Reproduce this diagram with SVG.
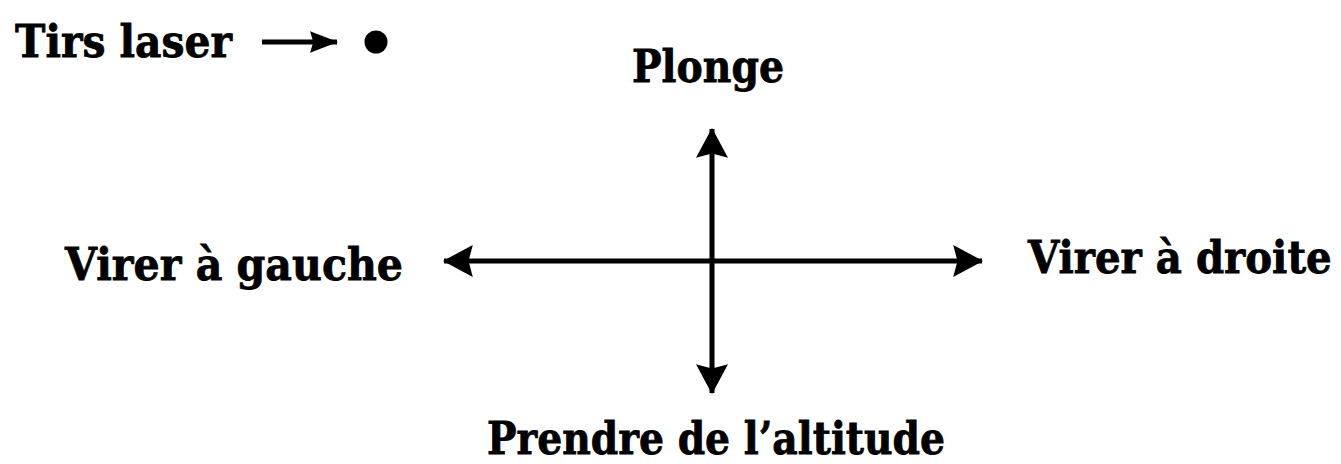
<svg xmlns="http://www.w3.org/2000/svg" width="1341" height="464" viewBox="0 0 1341 464">
<style>
.lbl{font-family:"DejaVu Serif","Liberation Serif",serif;font-weight:bold;font-size:44px;fill:#000;stroke:#000;stroke-width:0.8}
.ln{stroke:#000;stroke-width:5;fill:none}
</style>
<defs>
<marker id="ah" markerUnits="userSpaceOnUse" markerWidth="30" markerHeight="32" viewBox="0 0 28 30" refX="27" refY="15" orient="auto-start-reverse">
<path d="M0,0 L28,15 L0,30 L4,15 Z" fill="#000"/>
</marker>
<marker id="ahs" markerUnits="userSpaceOnUse" markerWidth="28" markerHeight="22" viewBox="0 0 26 20" refX="25" refY="10" orient="auto">
<path d="M0,0 L26,10 L0,20 L3,10 Z" fill="#000"/>
</marker>
</defs>
<rect width="1341" height="464" fill="#fff"/>
<g id="legend">
<text class="lbl" x="15" y="57" textLength="217" lengthAdjust="spacingAndGlyphs">Tirs laser</text>
<line class="ln" x1="262" y1="42" x2="337" y2="42" stroke-width="4.5" marker-end="url(#ahs)"/>
<circle cx="376" cy="42" r="11.5" fill="#000"/>
</g>
<g id="plonge"><text class="lbl" x="632" y="82" textLength="152" lengthAdjust="spacingAndGlyphs">Plonge</text></g>
<g id="gauche"><text class="lbl" x="65" y="280" textLength="338" lengthAdjust="spacingAndGlyphs">Virer à gauche</text></g>
<g id="droite"><text class="lbl" transform="translate(1028,273) scale(0.915,1)" x="0" y="0">Virer à droite</text></g>
<g id="altitude"><text class="lbl" x="487" y="454" font-size="41" textLength="458" lengthAdjust="spacingAndGlyphs">Prendre de l’altitude</text></g>
<g id="connectors">
<line class="ln" x1="712" y1="129" x2="712" y2="393" marker-start="url(#ah)" marker-end="url(#ah)"/>
<line class="ln" x1="444" y1="261" x2="982" y2="261" marker-start="url(#ah)" marker-end="url(#ah)"/>
</g>
</svg>
